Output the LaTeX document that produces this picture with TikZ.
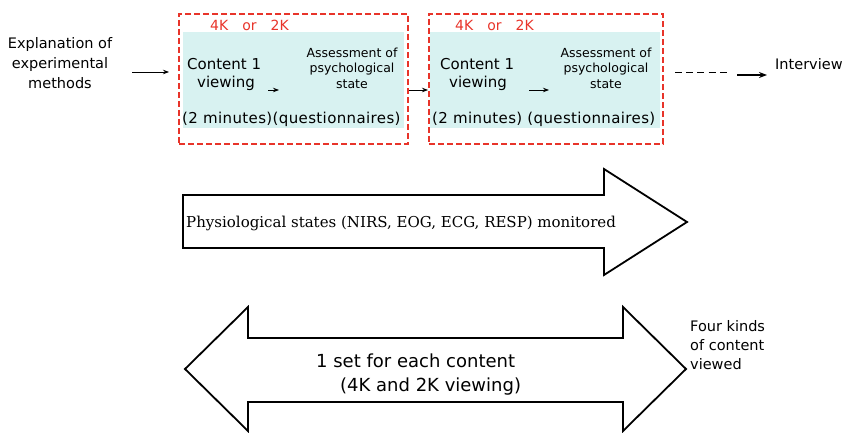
\documentclass[tikz,border=0pt]{standalone}
\usepackage{fontspec}
\setmainfont{DejaVu Sans}
\newfontfamily\myserif{DejaVu Serif}
\newfontfamily\widesans[LetterSpace=2.5]{DejaVu Sans}
\usetikzlibrary{arrows.meta}
\definecolor{boxred}{RGB}{232,52,42}
\definecolor{boxcyan}{RGB}{216,242,241}
\tikzset{
  txt/.style={inner sep=0pt, align=center, font=\fontsize{15}{20}\selectfont},
  smalltxt/.style={inner sep=0pt, align=center, font=\fontsize{12.5}{15.5}\selectfont},
  redtxt/.style={inner sep=0pt, text=boxred, font=\fontsize{14}{16}\selectfont},
  redbox/.style={draw=boxred, line width=2pt, dash pattern=on 6pt off 3pt, inner sep=0pt, anchor=north west},
  cyanbox/.style={fill=boxcyan, draw=none, inner sep=0pt, anchor=north west},
  tinyarrow/.style={-{Stealth[length=6pt,width=4.5pt]}, line width=0.8pt},
  thickarrow/.style={-{Stealth[length=8pt,width=6pt]}, line width=2pt},
  dashline/.style={line width=1pt, dash pattern=on 7pt off 4.2pt},
  bigarrow/.style={draw=black, line width=1.8pt, line join=miter, fill=white}
}
\begin{document}
\begin{tikzpicture}[x=1pt,y=-1pt]
\useasboundingbox (0,0) rectangle (847,433);
% cyan areas
\node[cyanbox, minimum width=221pt, minimum height=96pt] (c1) at (183,32) {};
\node[cyanbox, minimum width=230pt, minimum height=96pt] (c2) at (430,32) {};
% red dashed boxes
\node[redbox, minimum width=229pt, minimum height=130pt] (b1) at (178,13) {};
\node[redbox, minimum width=234pt, minimum height=130pt] (b2) at (428,13) {};
% red labels
\node[redtxt, anchor=west] (r1) at (210,25) {4K\hspace{1em}or\hspace{1em}2K};
\node[redtxt, anchor=west] (r2) at (455,25) {4K\hspace{1em}or\hspace{1em}2K};
% left text
\node[txt, font=\fontsize{14.5}{20}\selectfont] (expl) at (60,63) {Explanation of\\experimental\\methods};
\coordinate (a0s) at (132,72);
\coordinate (a0e) at (169,72);
\draw[tinyarrow] (a0s) -- (a0e);
% box 1 content
\node[txt, anchor=west] (cv1) at (187,64) {Content 1};
\node[txt] (vw1) at (226,83) {viewing};
\node[smalltxt] (as1) at (352,68) {Assessment of\\psychological\\state};
\node[txt, anchor=west, font=\widesans\fontsize{15}{20}\selectfont] (mn1) at (182,119) {(2 minutes)(questionnaires)};
\coordinate (s1s) at (268,90);
\coordinate (s1e) at (279,90);
\draw[tinyarrow] (s1s) -- (s1e);
% between boxes
\draw[tinyarrow] (b1.east |- 0,90) -- (b2.west |- 0,90);
% box 2 content
\node[txt, anchor=west] (cv2) at (440,64) {Content 1};
\node[txt] (vw2) at (478,83) {viewing};
\node[smalltxt] (as2) at (606,68) {Assessment of\\psychological\\state};
\node[txt, anchor=west, font=\widesans\fontsize{15}{20}\selectfont] (mn2) at (432,119) {(2 minutes) (questionnaires)};
\coordinate (s2s) at (529,90);
\coordinate (s2e) at (549,90);
\draw[tinyarrow] (s2s) -- (s2e);
% towards interview
\coordinate (d1) at (675,73);
\coordinate (d2) at (729,73);
\draw[dashline] (d1) -- (d2);
\node[txt, anchor=west, font=\fontsize{14.5}{16}\selectfont] (iv) at (775,64) {Interview};
\coordinate (t1) at (737,75);
\coordinate (t2) at (767,75);
\draw[thickarrow] (t1) -- (t2);
% big arrow 1
\draw[bigarrow] (183,195) -- (604,195) -- (604,169) -- (687,222) -- (604,275) -- (604,248) -- (183,248) -- cycle;
\node[inner sep=0pt, anchor=west, font=\myserif\fontsize{15}{18}\selectfont] (phys) at (186,223) {Physiological states (NIRS, EOG, ECG, RESP) monitored};
% big double arrow
\draw[bigarrow] (185,369) -- (248,307) -- (248,338) -- (623,338) -- (623,307) -- (686,369) -- (623,431) -- (623,402) -- (248,402) -- (248,431) -- cycle;
\node[inner sep=0pt, align=left, anchor=west, font=\fontsize{18}{24}\selectfont] (set) at (316,375) {1 set for each content\\\hspace{24pt}(4K and 2K viewing)};
\node[inner sep=0pt, align=left, anchor=west, font=\fontsize{14.5}{19}\selectfont] (four) at (690,345) {Four kinds\\of content\\viewed};
\end{tikzpicture}
\end{document}
